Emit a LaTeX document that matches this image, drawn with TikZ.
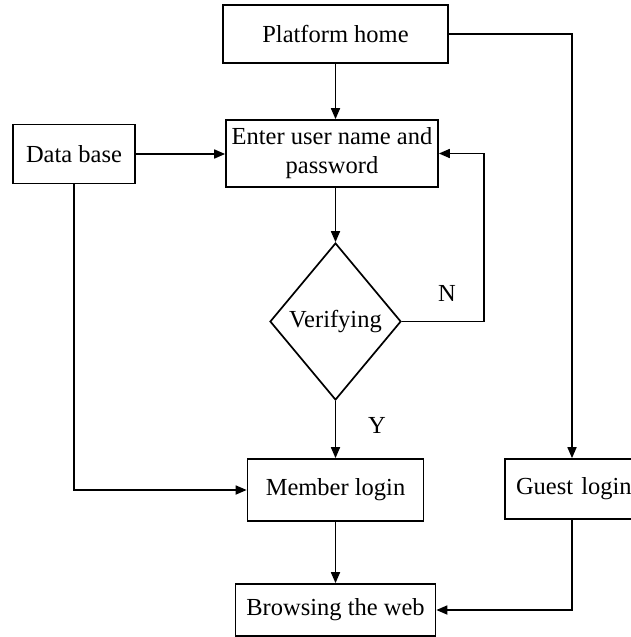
\documentclass[tikz,border=0pt]{standalone}
\usepackage{fontspec}
\setmainfont{Liberation Serif}
\usetikzlibrary{shapes.geometric,arrows.meta}
\begin{document}
\begin{tikzpicture}[x=1pt,y=-1pt,
  box/.style={draw,line width=1.7pt,rectangle,inner sep=0pt,align=center},
  conn/.style={line width=1.7pt,-{Triangle[length=11pt,width=9pt]}},
  every node/.style={font=\fontsize{24.5}{29}\selectfont}]
\useasboundingbox (0,0) rectangle (630,637);
% process boxes
\node[box,minimum width=225pt,minimum height=58pt] (home) at (335.5,34) {Platform home};
\node[box,minimum width=212pt,minimum height=67pt] (enter) at (332,153.5) {Enter user name and\\password};
\node[box,minimum width=122pt,minimum height=59pt] (db) at (74,154) {Data base};
\node[draw,diamond,line width=1.7pt,inner sep=0pt,minimum width=131pt,minimum height=157pt] (ver) at (335.5,321.5) {Verifying};
\node[box,minimum width=176pt,minimum height=62pt] (member) at (335.5,490) {Member login};
\node[box,minimum width=134pt,minimum height=60pt,text width=134pt,align=left] (guest) at (572,489) {\hspace*{11pt}Guest login};
\node[box,minimum width=200pt,minimum height=52pt] (browse) at (335.5,610) {Browsing the web};
% branch labels
\node (nlab) at (447,293) {N};
\node (ylab) at (377,425) {Y};
% turning points
\coordinate (loop) at (484,321.5);
\coordinate (dbturn) at (74,490);
\coordinate (gturn) at (572,34);
\coordinate (bturn) at (572,610);
% connectors
\draw[conn] (home.south) -- (home.south |- enter.north);
\draw[conn] (db) -- (enter.west |- db);
\draw[conn] (enter.south -| ver.north) -- (ver.north);
\draw[conn] (ver.east) -- (loop) |- (enter.east);
\draw[conn] (ver.south) -- (member.north);
\draw[conn] (db) -- (dbturn) -- (member.west);
\draw[conn] (home.east) -- (gturn) -- (guest.north);
\draw[conn] (member) -- (browse);
\draw[conn] (guest.south) -- (bturn) -- (browse.east);
\end{tikzpicture}
\end{document}
